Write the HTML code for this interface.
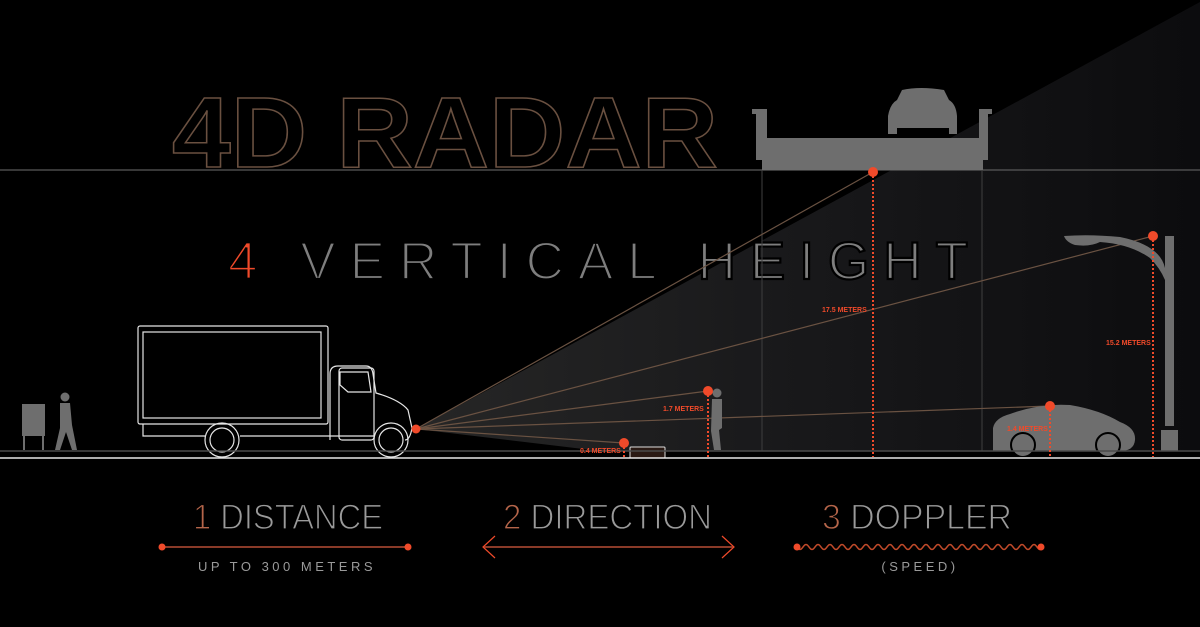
<!DOCTYPE html>
<html><head><meta charset="utf-8"><style>
html,body{margin:0;padding:0;background:#000;}
svg{display:block;}
text{font-family:"Liberation Sans",sans-serif;}
</style></head><body>
<svg id="s" width="1200" height="627" viewBox="0 0 1200 627">
<defs>
<linearGradient id="cone" x1="416" y1="0" x2="1200" y2="0" gradientUnits="userSpaceOnUse">
<stop offset="0" stop-color="#262626"/><stop offset="0.5" stop-color="#18181a"/><stop offset="1" stop-color="#0c0c0e"/>
</linearGradient>
</defs>
<rect width="1200" height="627" fill="#000"/>
<polygon points="416,429 1200,2 1200,451 600,451" fill="url(#cone)"/>
<line x1="0" y1="170" x2="1200" y2="170" stroke="#5a5a5a" stroke-width="1.2"/>
<text x="172" y="167" font-size="100" font-weight="bold" fill="none" stroke="#6a5040" stroke-width="1.5" textLength="546" lengthAdjust="spacingAndGlyphs">4D RADAR</text>
<text x="228" y="279" font-size="53" fill="#7e7e7e" stroke="#000" stroke-width="2.2" paint-order="normal" textLength="740" lengthAdjust="spacing"><tspan fill="#f04a2a">4</tspan> VERTICAL HEIGHT</text>
<g fill="#6e6e6e">
<path d="M752,109 H767 V138 H979 V109 H992 V114 H988 V160 H983 V170 H762 V160 H756 V114 H752 Z"/>
<path d="M888,134 V116 Q890,104 897,100 L902,90 Q920,86 944,90 L949,100 Q956,104 957,116 V134 H949 V128 H897 V134 Z"/>
</g>
<line x1="762" y1="170" x2="762" y2="451" stroke="#3f3f3f"/>
<line x1="982" y1="170" x2="982" y2="451" stroke="#3f3f3f"/>
<g id="rays"></g>
<g fill="#6e6e6e">
<rect x="1165" y="236" width="9" height="190"/>
<rect x="1161" y="430" width="17" height="21"/>
<path d="M1165,268 Q1160,245 1120,237 Q1090,234 1064,236 Q1066,242 1075,245 Q1090,247 1100,242 Q1130,244 1150,258 Q1160,268 1165,280 Z"/>
</g>
<g fill="#6e6e6e">
<path d="M993,451 V428 Q995,418 1010,414 Q1040,403 1070,405 Q1100,410 1120,422 Q1136,428 1135,440 Q1134,451 1120,451 Z"/>
<circle cx="1023" cy="445" r="12" stroke="#000" stroke-width="2"/>
<circle cx="1108" cy="445" r="12" stroke="#000" stroke-width="2"/>
</g>
<g fill="#6e6e6e">
<circle cx="717" cy="393" r="4.5"/>
<path d="M712,399 H722 V428 L719,430 L721,450 H714 L711,431 Z"/>
</g>
<g fill="#6e6e6e">
<circle cx="65" cy="397" r="4.5"/>
<path d="M60,403 H70 L72,425 L77,450 H72 L66,432 L60,450 H55 L60,428 Z"/>
</g>
<g fill="#6e6e6e">
<rect x="22" y="404" width="23" height="32"/>
<rect x="23" y="436" width="2" height="14"/><rect x="42" y="436" width="2" height="14"/>
</g>
<rect x="630" y="447" width="35" height="11" fill="#2a1a14" stroke="#ddd" stroke-width="1" rx="1"/>
<g fill="none" stroke="#e6e6e6" stroke-width="1.2">
<rect x="138" y="326" width="190" height="98" rx="2"/>
<rect x="143" y="332" width="178" height="86"/>
<path d="M143,424 V436 H205"/>
<path d="M240,436 H375"/>
<path d="M330,440 V374 Q330,366 338,366 H366 Q372,366 373,374 L376,393 Q400,400 408,410 L412,428 Q410,440 405,440"/>
<path d="M340,372 H368 L371,392 H348 L340,385 Z"/>
<rect x="339" y="368" width="35" height="72" rx="3"/>
<circle cx="222" cy="440" r="17"/><circle cx="222" cy="440" r="12"/>
<circle cx="391" cy="440" r="17"/><circle cx="391" cy="440" r="12"/>
</g>
<line x1="0" y1="451" x2="1200" y2="451" stroke="#4a4a4a" stroke-width="1.5"/>
<line x1="0" y1="458" x2="1200" y2="458" stroke="#e8e8e8" stroke-width="1.5"/>
<g id="marks"></g>
<circle cx="416" cy="429" r="4.5" fill="#f04a2a"/>

<g>
<text x="193" y="529" font-size="35" fill="#9a9a9a" stroke="#000" stroke-width="1.2" textLength="190" lengthAdjust="spacingAndGlyphs"><tspan fill="#b5654a">1</tspan> DISTANCE</text>
<line x1="162" y1="547" x2="408" y2="547" stroke="#8a3a28" stroke-width="2"/>
<circle cx="162" cy="547" r="3.5" fill="#f04a2a"/><circle cx="408" cy="547" r="3.5" fill="#f04a2a"/>
<text x="287" y="571" font-size="13" fill="#9a9a9a" text-anchor="middle" letter-spacing="3.5">UP TO 300 METERS</text>
</g>
<g>
<text x="503" y="529" font-size="35" fill="#9a9a9a" stroke="#000" stroke-width="1.2" textLength="209" lengthAdjust="spacingAndGlyphs"><tspan fill="#b5654a">2</tspan> DIRECTION</text>
<line x1="483" y1="547" x2="734" y2="547" stroke="#8a3a28" stroke-width="2"/>
<path d="M495,536 L483,547 L495,558 M722,536 L734,547 L722,558" fill="none" stroke="#f04a2a" stroke-width="1.2"/>
</g>
<g>
<text x="822" y="529" font-size="35" fill="#9a9a9a" stroke="#000" stroke-width="1.2" textLength="190" lengthAdjust="spacingAndGlyphs"><tspan fill="#b5654a">3</tspan> DOPPLER</text>
<path id="wave" fill="none" stroke="#c04a2a" stroke-width="1.5"/>
<circle cx="797" cy="547" r="3.5" fill="#f04a2a"/><circle cx="1041" cy="547" r="3.5" fill="#f04a2a"/>
<text x="920" y="571" font-size="13" fill="#9a9a9a" text-anchor="middle" letter-spacing="3.5">(SPEED)</text>
</g>
</svg>
<script>
const targets = ["overpass","streetlight","pedestrian","car","manhole"];
const heightLabels = ["17.5 METERS","15.2 METERS","1.7 METERS","1.4 METERS","0.4 METERS"];
const pointX = [873,1153,708,1050,624];
const pointY = [172,236,391,406,443];
const labelX = [822,1106,663,1007,580];
const labelY = [312,345,411,431,453];
const NS="http://www.w3.org/2000/svg";
const rays=document.getElementById('rays'), marks=document.getElementById('marks');
const rx=416, ry=429, groundY=457;
for(let i=0;i<targets.length;i++){
  const l=document.createElementNS(NS,'line');
  l.setAttribute('x1',rx);l.setAttribute('y1',ry);l.setAttribute('x2',pointX[i]);l.setAttribute('y2',pointY[i]);
  l.setAttribute('stroke','#6a5242');l.setAttribute('stroke-width','1.2');
  
  
  rays.appendChild(l);
  const d=document.createElementNS(NS,'line');
  d.setAttribute('x1',pointX[i]);d.setAttribute('y1',pointY[i]);d.setAttribute('x2',pointX[i]);d.setAttribute('y2',groundY);
  d.setAttribute('stroke','#f04a2a');d.setAttribute('stroke-width','2');d.setAttribute('stroke-dasharray','2 2');
  
  
  marks.appendChild(d);
  const c=document.createElementNS(NS,'circle');
  c.setAttribute('cx',pointX[i]);c.setAttribute('cy',pointY[i]);c.setAttribute('r','5');c.setAttribute('fill','#f04a2a');
  
  
  marks.appendChild(c);
  const t=document.createElementNS(NS,'text');
  t.setAttribute('x',labelX[i]);t.setAttribute('y',labelY[i]);t.setAttribute('font-size','7');t.setAttribute('font-weight','bold');t.setAttribute('fill','#f04a2a');
  t.textContent=heightLabels[i];
  
  
  marks.appendChild(t);
}
let p='M797,547';
for(let x=797;x<1041;x+=1){p+=' L'+x+','+(547+2.5*Math.sin((x-797)/12*2*Math.PI)).toFixed(2);}
document.getElementById('wave').setAttribute('d',p);
</script>
</body></html>
